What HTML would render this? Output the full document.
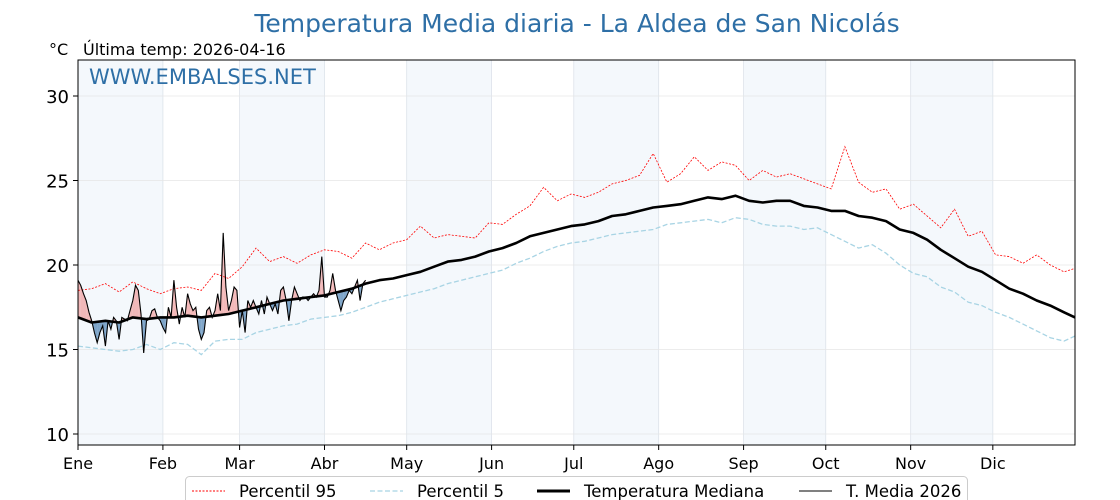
<!DOCTYPE html>
<html><head><meta charset="utf-8"><style>
html,body{margin:0;padding:0;background:#fff;}
svg{display:block;font-family:"DejaVu Sans","Liberation Sans",sans-serif;}
</style></head><body>
<svg id="chart" width="1120" height="500" viewBox="0 0 1120 500">
<text x="577" y="32" text-anchor="middle" font-size="25" fill="#2e6fa6">Temperatura Media diaria - La Aldea de San Nicolás</text>
<text x="49" y="55" font-size="16" fill="#000">°C</text>
<text x="83" y="55" font-size="16" fill="#000">Última temp: 2026-04-16</text>
<g id="bands"></g><g id="grid"></g><g id="fills"></g><g id="lines"></g><g id="axes"></g>
<text x="89" y="84" font-size="21" fill="#2e6fa6">WWW.EMBALSES.NET</text>
<g>
<rect x="185.5" y="476.5" width="782" height="30" rx="4" fill="#fff" stroke="#ccc"/>
<line x1="192" y1="491" x2="225" y2="491" stroke="red" stroke-width="1" stroke-dasharray="2,1.5"/>
<text x="239" y="497" font-size="16.5">Percentil 95</text>
<line x1="370" y1="491" x2="403" y2="491" stroke="#a8d4e4" stroke-width="1.3" stroke-dasharray="5,2.5"/>
<text x="417" y="497" font-size="16.5">Percentil 5</text>
<line x1="537" y1="491" x2="570" y2="491" stroke="#000" stroke-width="3"/>
<text x="584" y="497" font-size="16.5">Temperatura Mediana</text>
<line x1="799" y1="491" x2="832" y2="491" stroke="#000" stroke-width="1"/>
<text x="846" y="497" font-size="16.5">T. Media 2026</text>
</g>
</svg>
<script>
const months = ["Ene","Feb","Mar","Abr","May","Jun","Jul","Ago","Sep","Oct","Nov","Dic"];
const monthStartDays = [0,31,59,90,120,151,181,212,243,273,304,334];
const yTicks = [10,15,20,25,30];
const stepDays = 5;
const median = [16.9,16.6,16.7,16.6,16.9,16.8,16.9,16.9,17.0,16.9,17.0,17.1,17.3,17.5,17.7,17.9,18.0,18.1,18.2,18.4,18.6,18.9,19.1,19.2,19.4,19.6,19.9,20.2,20.3,20.5,20.8,21.0,21.3,21.7,21.9,22.1,22.3,22.4,22.6,22.9,23.0,23.2,23.4,23.5,23.6,23.8,24.0,23.9,24.1,23.8,23.7,23.8,23.8,23.5,23.4,23.2,23.2,22.9,22.8,22.6,22.1,21.9,21.5,20.9,20.4,19.9,19.6,19.1,18.6,18.3,17.9,17.6,17.2,16.9];
const p95 = [18.5,18.6,18.9,18.4,19.0,18.6,18.3,18.6,18.7,18.5,19.5,19.2,19.9,21.0,20.2,20.5,20.1,20.6,20.9,20.8,20.4,21.3,20.9,21.3,21.5,22.3,21.6,21.8,21.7,21.6,22.5,22.4,23.0,23.5,24.6,23.8,24.2,24.0,24.3,24.8,25.0,25.3,26.6,24.9,25.4,26.4,25.6,26.1,25.9,25.0,25.6,25.2,25.4,25.1,24.8,24.5,27.0,24.9,24.3,24.5,23.3,23.6,22.9,22.2,23.3,21.7,22.0,20.6,20.5,20.1,20.6,20.0,19.6,19.8];
const p5 = [15.2,15.1,15.0,14.9,15.0,15.3,15.0,15.4,15.3,14.7,15.5,15.6,15.6,16.0,16.2,16.4,16.5,16.8,16.9,17.0,17.2,17.5,17.8,18.0,18.2,18.4,18.6,18.9,19.1,19.3,19.5,19.7,20.1,20.4,20.8,21.1,21.3,21.4,21.6,21.8,21.9,22.0,22.1,22.4,22.5,22.6,22.7,22.5,22.8,22.7,22.4,22.3,22.3,22.1,22.2,21.8,21.4,21.0,21.2,20.7,20.0,19.5,19.3,18.7,18.4,17.8,17.6,17.2,16.9,16.5,16.1,15.7,15.5,15.8];
const t2026 = [19.1,18.8,18.3,17.9,17.2,16.7,16.0,15.4,16.0,16.4,15.2,16.7,16.2,16.9,16.7,15.6,16.9,16.8,16.7,17.3,17.9,18.8,18.5,17.1,14.8,16.7,16.8,17.3,17.4,16.9,16.7,16.3,16.0,17.5,16.9,19.1,17.5,16.5,17.5,16.9,18.3,17.7,17.3,17.5,16.2,15.6,16.0,17.3,17.5,16.9,17.3,18.3,17.3,21.9,18.7,17.3,17.9,18.7,18.5,16.3,17.3,16.0,17.9,17.5,17.9,17.5,17.1,17.9,17.1,18.1,17.7,17.3,17.7,17.1,18.5,18.7,17.9,16.7,17.9,18.7,18.3,17.9,18.1,18.1,17.9,18.1,18.3,18.1,18.5,20.5,18.1,18.1,18.5,19.5,18.5,17.9,17.3,17.9,18.1,18.5,18.3,18.7,19.1,17.9,18.9,19.1];

const NS="http://www.w3.org/2000/svg";
const X0=78,X1=1075,Y0=60,Y1=445;
const xs=d=>X0+d*(X1-X0)/364;
const ys=v=>265-(v-20)*16.9;
function mk(tag,attrs,parent){const e=document.createElementNS(NS,tag);for(const k in attrs)e.setAttribute(k,attrs[k]);parent.appendChild(e);return e;}
const gB=document.getElementById('bands'),gG=document.getElementById('grid'),gF=document.getElementById('fills'),gL=document.getElementById('lines'),gA=document.getElementById('axes');
mk('rect',{x:X0,y:Y0,width:X1-X0,height:Y1-Y0,fill:'#fff'},gB);
for(let i=0;i<12;i+=2){const a=monthStartDays[i],b=i+1<12?monthStartDays[i+1]:365;
 const r=mk('rect',{x:xs(a),y:Y0,width:xs(b)-xs(a),height:Y1-Y0,fill:'#f4f8fc'},gB);
 
 }
monthStartDays.forEach((d,i)=>{
 const l=mk('line',{x1:xs(d),x2:xs(d),y1:Y0,y2:Y1,stroke:'#dde3ea','stroke-width':0.8},gG);
 
 
 mk('line',{x1:xs(d),x2:xs(d),y1:Y1,y2:Y1+5,stroke:'#000'},gA);
 const t=mk('text',{x:xs(d),y:Y1+24,'text-anchor':'middle','font-size':16},gA);t.textContent=months[i];
 
 
});
yTicks.forEach(v=>{
 const l=mk('line',{x1:X0,x2:X1,y1:ys(v),y2:ys(v),stroke:'#e6e6e6','stroke-width':0.8},gG);
 
 
 mk('line',{x1:X0-5,x2:X0,y1:ys(v),y2:ys(v),stroke:'#000'},gA);
 const t=mk('text',{x:X0-9,y:ys(v)+7,'text-anchor':'end','font-size':18},gA);t.textContent=v;
 
 
});
const frame=mk('rect',{x:X0,y:Y0,width:X1-X0,height:Y1-Y0,fill:'none',stroke:'#000','stroke-width':1},gA);


function medAt(d){const i=Math.min(Math.floor(d/stepDays),median.length-2);const f=(d-i*stepDays)/stepDays;return median[i]+(median[i+1]-median[i])*f;}
for(let d=0;d<t2026.length-1;d++){
 const a=t2026[d],b=t2026[d+1],ma=medAt(d),mb=medAt(d+1);
 const da=a-ma,db=b-mb;
 const seg=(d0,d1,v0,v1,m0,m1,up)=>{const p=mk('polygon',{points:`${xs(d0)},${ys(v0)} ${xs(d1)},${ys(v1)} ${xs(d1)},${ys(m1)} ${xs(d0)},${ys(m0)}`,fill:up?'#f0a8a8':'#4a80b2','fill-opacity':up?0.8:0.7},gF);
  
  };
 if(da*db>=0){seg(d,d+1,a,b,ma,mb,(da+db)>=0);}
 else{const f=da/(da-db);const dc=d+f,vc=a+(b-a)*f;seg(d,dc,a,vc,ma,vc,da>0);seg(dc,d+1,vc,b,vc,mb,db>0);}
}
function path(arr,step){return arr.map((v,i)=>(i?'L':'M')+xs(Math.min(i*step,364)).toFixed(1)+','+ys(v).toFixed(1)).join(' ');}
let e;
e=mk('path',{d:path(p95,stepDays),fill:'none',stroke:'red','stroke-width':0.8,'stroke-dasharray':'2,1.5'},gL);


e=mk('path',{d:path(p5,stepDays),fill:'none',stroke:'#a8d4e4','stroke-width':1.3,'stroke-dasharray':'5,2.5'},gL);


e=mk('path',{d:path(median,stepDays),fill:'none',stroke:'#000','stroke-width':2.6,'stroke-linejoin':'round'},gL);


e=mk('path',{d:path(t2026,1),fill:'none',stroke:'#000','stroke-width':1.1},gL);


</script>
</body></html>
